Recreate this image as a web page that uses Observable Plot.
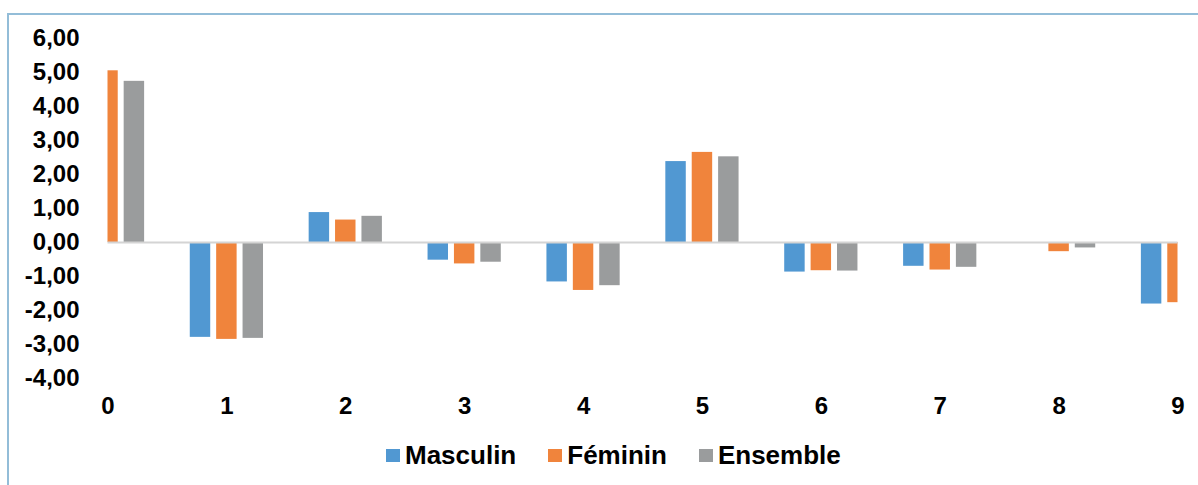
<!DOCTYPE html>
<html>
<head>
<meta charset="utf-8">
<script src="https://cdn.jsdelivr.net/npm/d3@7"></script>
<script src="https://cdn.jsdelivr.net/npm/@observablehq/plot@0.6"></script>
<style>
  html, body { margin: 0; padding: 0; background: #fff; }
  body { width: 1198px; height: 485px; position: relative; overflow: hidden; font-family: "Liberation Sans", Arial, sans-serif; }
  #frame { position: absolute; left: 7px; top: 13px; right: -10px; bottom: -10px; border-top: 2px solid #93bdd8; border-left: 2px solid #93bdd8; }
  #chart { position: absolute; left: 0; top: 0; }
  #legend { position: absolute; left: 386px; top: 440px; display: flex; align-items: center; font-weight: bold; font-size: 26px; color: #000; }
  .item { display: flex; align-items: center; margin-right: 32px; }
  .sw { width: 14px; height: 13px; margin-right: 5px; }
</style>
</head>
<body>
<div id="frame"></div>
<div id="chart"></div>
<div id="legend"></div>
<script>
const categories = [0, 1, 2, 3, 4, 5, 6, 7, 8, 9];
const seriesNames = ["Masculin", "Féminin", "Ensemble"];
const masculin = [4.40, -2.79, 0.88, -0.52, -1.16, 2.38, -0.87, -0.70, 0.00, -1.81];
const feminin  = [5.05, -2.85, 0.66, -0.63, -1.41, 2.65, -0.83, -0.81, -0.27, -1.77];
const ensemble = [4.74, -2.82, 0.77, -0.58, -1.27, 2.52, -0.84, -0.73, -0.16, -1.80];
const yTicks = [-4, -3, -2, -1, 0, 1, 2, 3, 4, 5, 6];
const colors = ["#5198d2", "#f0843c", "#9a9c9d"];

const seriesValues = [masculin, feminin, ensemble];
const data = [];
seriesNames.forEach((s, si) => {
  categories.forEach((c, ci) => {
    data.push({cat: c, serie: s, si, value: seriesValues[si][ci]});
  });
});

const offset = 0.222, barW = 0.172;

const chart = Plot.plot({
  width: 1198,
  height: 430,
  marginTop: 38,
  marginBottom: 52,
  marginLeft: 107.5,
  marginRight: 20.5,
  style: {fontFamily: "'Liberation Sans', Arial, sans-serif", fontWeight: "bold", fontSize: "24px", color: "#000", background: "transparent"},
  x: {domain: [0, 9], axis: null},
  y: {domain: [-4, 6], axis: null},
  color: {domain: seriesNames, range: colors},
  marks: [
    Plot.rect(data, {
      x1: d => d.cat + (d.si - 1) * offset - barW / 2,
      x2: d => d.cat + (d.si - 1) * offset + barW / 2,
      y1: 0,
      y2: "value",
      fill: "serie",
      clip: true
    }),
    Plot.ruleY([0], {stroke: "#d4d4d4", strokeWidth: 2.2}),
    Plot.axisY(yTicks, {
      label: null,
      tickSize: 0, tickPadding: 28.5,
      tickFormat: d => d.toFixed(2).replace(".", ","),
      fontSize: 24, fontWeight: "bold", fill: "#000"
    }),
    Plot.axisX(categories, {
      label: null,
      tickSize: 0, tickPadding: 18,
      tickFormat: d => String(d),
      fontSize: 24, fontWeight: "bold", fill: "#000"
    })
  ]
});
document.getElementById("chart").appendChild(chart);

const legend = document.getElementById("legend");
seriesNames.forEach((s, i) => {
  const item = document.createElement("div");
  item.className = "item";
  const sw = document.createElement("div");
  sw.className = "sw";
  sw.style.background = colors[i];
  const t = document.createElement("span");
  t.textContent = s;
  item.appendChild(sw);
  item.appendChild(t);
  legend.appendChild(item);
});
</script>
</body>
</html>
